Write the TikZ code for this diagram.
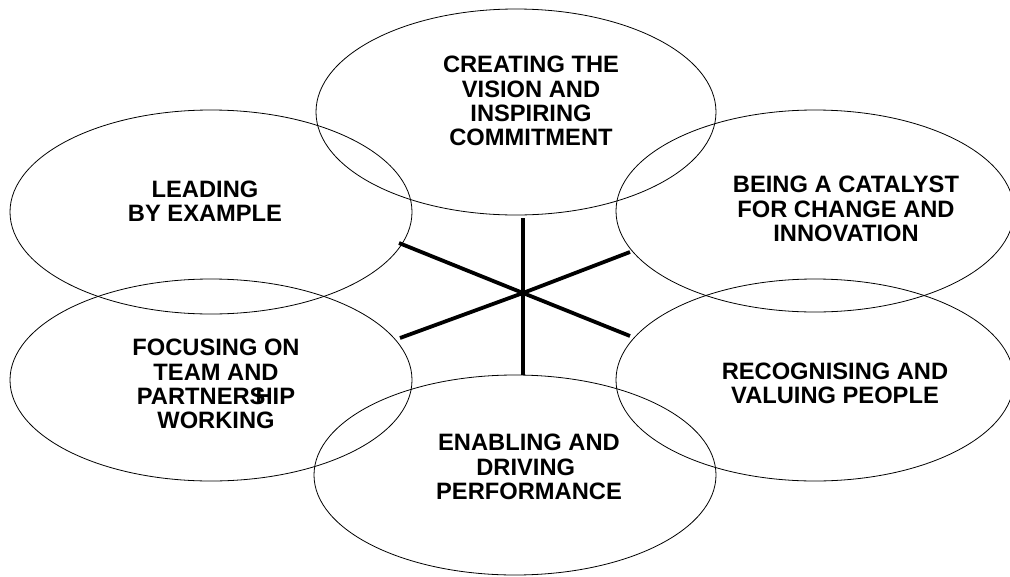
\documentclass[tikz,border=0pt]{standalone}
\usepackage{fontspec}
\setmainfont{Liberation Sans}
\usetikzlibrary{shapes.geometric}
\tikzset{
  oval/.style={draw, ellipse, line width=0.8pt, inner sep=0pt},
  txt/.style={align=center, inner sep=0pt, font=\bfseries\fontsize{23.7}{24.2}\selectfont},
  spoke/.style={line width=3.8pt}
}
\begin{document}
\begin{tikzpicture}[x=1pt, y=-1pt]
\useasboundingbox (0,0) rectangle (1010,576);
\clip (0,0) rectangle (1010,576);
% ellipses
\node[oval, minimum width=400pt, minimum height=206pt] (top) at (516,112) {};
\node[oval, minimum width=402pt, minimum height=204pt] (lu) at (211,212) {};
\node[oval, minimum width=402pt, minimum height=202pt] (ll) at (211,380) {};
\node[oval, minimum width=398pt, minimum height=202pt] (ru) at (815,211) {};
\node[oval, minimum width=398pt, minimum height=202pt] (rl) at (815,380) {};
\node[oval, minimum width=402pt, minimum height=200pt] (bot) at (515,475) {};
% texts
\node[txt] (ttop) at (531,101) {CREATING THE\\VISION AND\\INSPIRING\\COMMITMENT};
\node[txt] (tlu) at (205,201) {LEADING\\BY EXAMPLE};
\node[txt] (tru) at (846,209) {BEING A CATALYST\\FOR CHANGE AND\\INNOVATION};
\node[txt] (tll) at (216,384) {FOCUSING ON\\TEAM AND\\PARTNERS\kern-0.42em HIP\\WORKING};
\node[txt] (trl) at (835,383) {RECOGNISING AND\\VALUING PEOPLE};
\node[txt] (tbot) at (529,467) {ENABLING AND\\DRIVING\ \mbox{}\\PERFORMANCE};
% spokes
\coordinate (c) at (523,293);
\coordinate (vt) at (523,218);
\coordinate (vb) at (523,375);
\coordinate (d1a) at (399,243);
\coordinate (d1b) at (630,336);
\coordinate (d2a) at (400,338);
\coordinate (d2b) at (630,252);
\draw[spoke] (vt) -- (c) -- (vb);
\draw[spoke] (d1a) -- (c) -- (d1b);
\draw[spoke] (d2a) -- (c) -- (d2b);
\end{tikzpicture}
\end{document}
